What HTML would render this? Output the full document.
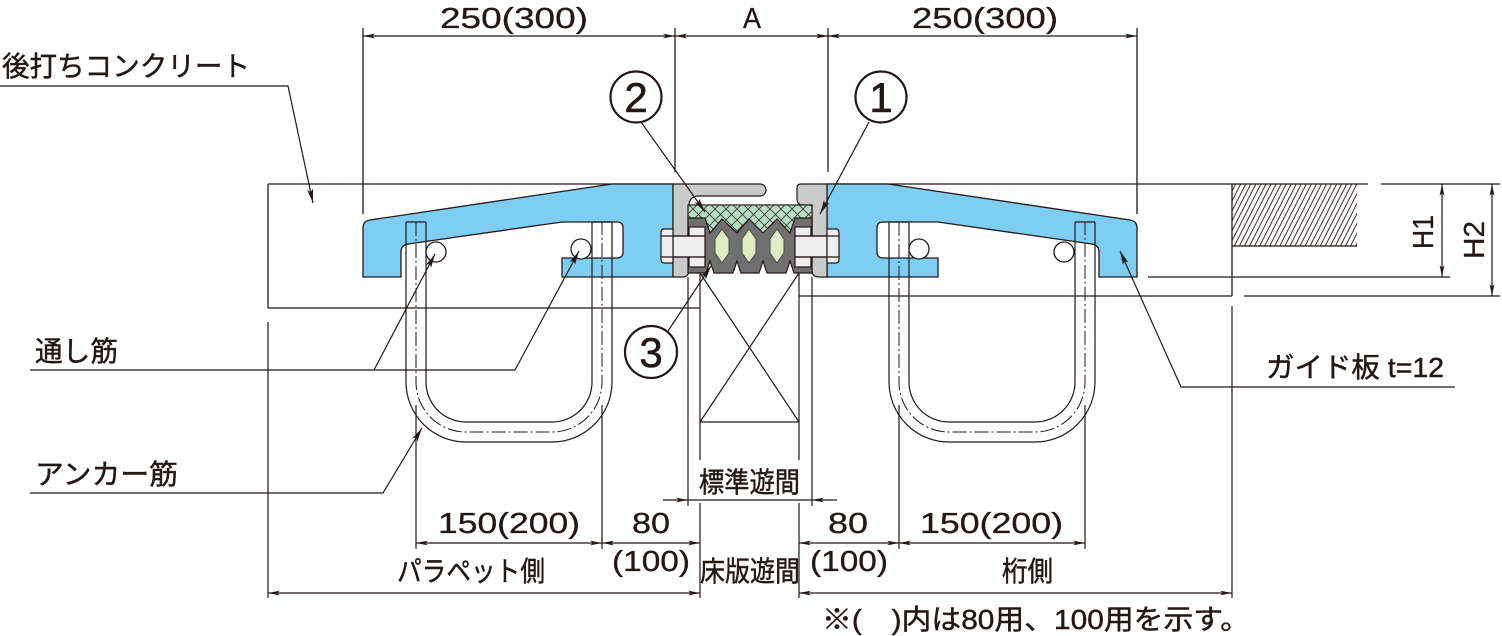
<!DOCTYPE html>
<html><head><meta charset="utf-8"><style>
html,body{margin:0;padding:0;background:#fff;}
body{width:1502px;height:636px;overflow:hidden;}
svg{display:block;}
text{fill:#231815;}
.n{font-family:"Liberation Sans",sans-serif;font-size:29px;stroke:#231815;stroke-width:0.3;}
.j{font-family:"Liberation Sans","Noto Sans CJK JP",sans-serif;font-size:28px;stroke:#231815;stroke-width:0.45;}
</style></head><body>
<svg width="1502" height="636" viewBox="0 0 1502 636" xmlns="http://www.w3.org/2000/svg">
<defs>
<marker id="da" viewBox="0 0 12 6" refX="12" refY="3" markerWidth="12" markerHeight="6" markerUnits="userSpaceOnUse" orient="auto-start-reverse"><path d="M0,0.6 L12,3 L0,5.4 L3,3 Z" fill="#231815"/></marker>
<marker id="la" viewBox="0 0 14 7" refX="14" refY="3.5" markerWidth="14" markerHeight="7" markerUnits="userSpaceOnUse" orient="auto"><path d="M0,0.5 L14,3.5 L0,6.5 L3,3.5 Z" fill="#231815"/></marker>
<pattern id="hat" width="4.5" height="10" patternUnits="userSpaceOnUse" patternTransform="rotate(27)"><line x1="1" y1="0" x2="1" y2="10" stroke="#231815" stroke-width="0.9"/></pattern>
<pattern id="xh" width="11" height="11" patternUnits="userSpaceOnUse"><path d="M0,0 L11,11 M11,0 L0,11" stroke="#3c3c3c" stroke-width="0.9"/></pattern>
</defs>

<g stroke="#231815" stroke-width="1.3" fill="none">
<line x1="363" y1="28" x2="363" y2="214"/>
<line x1="675" y1="28" x2="675" y2="172"/>
<line x1="828" y1="28" x2="828" y2="172"/>
<line x1="1137" y1="28" x2="1137" y2="214"/>
<line x1="363" y1="36" x2="675" y2="36" marker-start="url(#da)" marker-end="url(#da)"/>
<line x1="675" y1="36" x2="828" y2="36" marker-start="url(#da)" marker-end="url(#da)"/>
<line x1="828" y1="36" x2="1137" y2="36" marker-start="url(#da)" marker-end="url(#da)"/>

<line x1="268" y1="184" x2="673" y2="184"/>
<line x1="268" y1="184" x2="268" y2="308"/>
<line x1="268" y1="308" x2="700" y2="308"/>
<line x1="827" y1="184" x2="1368" y2="184"/>
<line x1="1381" y1="184" x2="1500" y2="184"/>
<line x1="1232" y1="184" x2="1232" y2="296"/>
<line x1="799" y1="296" x2="1232" y2="296"/>
<line x1="1244" y1="296" x2="1500" y2="296"/>
<line x1="1148" y1="277" x2="1450" y2="277"/>
</g>
<rect x="1232" y="184" width="125" height="62" fill="url(#hat)"/>
<line x1="1232" y1="246" x2="1357" y2="246" stroke="#231815" stroke-width="1.3"/>

<g stroke="#231815" stroke-width="1.2">
<line x1="1442" y1="184" x2="1442" y2="277" marker-start="url(#da)" marker-end="url(#da)"/>
<line x1="1492" y1="184" x2="1492" y2="296" marker-start="url(#da)" marker-end="url(#da)"/>
</g>
<text class="n" transform="translate(1433,249) rotate(-90)" textLength="34" lengthAdjust="spacingAndGlyphs">H1</text>
<text class="n" transform="translate(1484,259) rotate(-90)" textLength="38" lengthAdjust="spacingAndGlyphs">H2</text>

<g fill="#7ecef4" stroke="#231815" stroke-width="1.3">
<path d="M363,228 Q363,221 370,220 L612,184 H673 V277 H562 V258 H617 Q623,258 623,252 V228 Q623,222 617,222 H562 L408,244 Q401,245 401,252 V277 H363 Z"/>
<path d="M1137,228 Q1137,221 1130,220 L888,184 H827 V277 H938 V258 H883 Q877,258 877,252 V228 Q877,222 883,222 H938 L1092,244 Q1099,245 1099,252 V277 H1137 Z"/>
</g>

<g stroke="#231815" stroke-width="1.2" fill="none">
<path d="M406,222 V382 A60,60 0 0 0 466,442 H552 A60,60 0 0 0 612,382 V222"/>
<path d="M426,222 V382 A40,40 0 0 0 466,422 H552 A40,40 0 0 0 592,382 V222"/>
<path d="M416,222 V382 A50,50 0 0 0 466,432 H552 A50,50 0 0 0 602,382 V222" stroke-dasharray="14 3 2 3" stroke-width="1"/>
<line x1="406" y1="222" x2="426" y2="222"/>
<line x1="592" y1="222" x2="612" y2="222"/>
<path d="M889,222 V382 A60,60 0 0 0 949,442 H1035 A60,60 0 0 0 1095,382 V222"/>
<path d="M909,222 V382 A40,40 0 0 0 949,422 H1035 A40,40 0 0 0 1075,382 V222"/>
<path d="M899,222 V382 A50,50 0 0 0 949,432 H1035 A50,50 0 0 0 1085,382 V222" stroke-dasharray="14 3 2 3" stroke-width="1"/>
<line x1="889" y1="222" x2="909" y2="222"/>
<line x1="1075" y1="222" x2="1095" y2="222"/>
<line x1="416" y1="405" x2="416" y2="549"/>
<line x1="602" y1="405" x2="602" y2="549"/>
<line x1="899" y1="405" x2="899" y2="549"/>
<line x1="1085" y1="405" x2="1085" y2="549"/>
</g>
<g fill="#fff" stroke="#231815" stroke-width="1.3">
<circle cx="436" cy="252" r="10"/>
<circle cx="581" cy="249" r="10"/>
<circle cx="919" cy="249" r="10"/>
<circle cx="1064" cy="252" r="10"/>
</g>

<g stroke="#231815" stroke-width="1.2">
<path d="M673,184 H760 A6,6 0 0 1 760,196 H699 Q689,196 689,206 V270 Q689,277 682,277 H673 Z" fill="#c9caca"/>
<path d="M827,184 H801 Q797,184 797,188 V199 Q797,205 803,205 H812 V270 Q812,277 819,277 H827 Z" fill="#c9caca"/>
<rect x="688" y="205" width="124" height="30" fill="#b7dec3"/>
<rect x="688" y="205" width="124" height="30" fill="url(#xh)" stroke="none"/>
<path d="M688,218 H705 L710,233 L722,219 L737,233 L749,219 L763,233 L777,219 L790,233 L795,218 H812 V273 H794 L790,261 L786,273 H767 L763,261 L759,273 H741 L737,261 L733,273 H714 L710,261 L706,273 H688 Z" fill="#717071"/>
<g fill="#e0ebc4" stroke="#4a4a4a" stroke-width="1">
<path d="M722,229 L729,239 L729,253 L722,263 L715,253 L715,239 Z"/>
<path d="M749,229 L756,239 L756,253 L749,263 L742,253 L742,239 Z"/>
<path d="M777,229 L784,239 L784,253 L777,263 L770,253 L770,239 Z"/>
</g>
<g fill="#eeeeef">
<rect x="689" y="227" width="16" height="40"/>
<rect x="795" y="227" width="16" height="40"/>
<rect x="673" y="236" width="32" height="21"/>
<rect x="795" y="236" width="32" height="21"/>
<path d="M673,229 H664 Q661,229 661,233 V259 Q661,263 664,263 H673 Z"/>
<path d="M827,229 H836 Q839,229 839,233 V259 Q839,263 836,263 H827 Z"/>
</g>
<line x1="661" y1="236" x2="705" y2="236"/>
<line x1="661" y1="257" x2="705" y2="257"/>
<line x1="795" y1="236" x2="839" y2="236"/>
<line x1="795" y1="257" x2="839" y2="257"/>
</g>

<g stroke="#231815" stroke-width="1.2" fill="none">
<line x1="688" y1="277" x2="688" y2="506"/>
<line x1="812" y1="277" x2="812" y2="506"/>
<line x1="700" y1="273" x2="700" y2="460"/>
<line x1="799" y1="273" x2="799" y2="460"/>
<line x1="700" y1="503" x2="700" y2="598"/>
<line x1="799" y1="503" x2="799" y2="598"/>
<line x1="700" y1="422" x2="799" y2="422"/>
<line x1="700" y1="273" x2="799" y2="422"/>
<line x1="799" y1="273" x2="700" y2="422"/>
<line x1="268" y1="322" x2="268" y2="598"/>
<line x1="1232" y1="306" x2="1232" y2="598"/>
<line x1="663" y1="500" x2="837" y2="500"/>
</g>
<path d="M688,500 L676,497.6 L679,500 L676,502.4 Z" fill="#231815"/>
<path d="M812,500 L824,497.6 L821,500 L824,502.4 Z" fill="#231815"/>

<g stroke="#231815" stroke-width="1.2">
<line x1="416" y1="543" x2="602" y2="543" marker-start="url(#da)" marker-end="url(#da)"/>
<line x1="602" y1="543" x2="700" y2="543" marker-start="url(#da)" marker-end="url(#da)"/>
<line x1="799" y1="543" x2="899" y2="543" marker-start="url(#da)" marker-end="url(#da)"/>
<line x1="899" y1="543" x2="1085" y2="543" marker-start="url(#da)" marker-end="url(#da)"/>
<line x1="268" y1="593" x2="700" y2="593" marker-start="url(#da)" marker-end="url(#da)"/>
<line x1="799" y1="593" x2="1232" y2="593" marker-start="url(#da)" marker-end="url(#da)"/>
</g>

<g stroke="#231815" stroke-width="1.2" fill="none">
<polyline points="0,86 288,86 313,203" marker-end="url(#la)"/>
<line x1="30" y1="370" x2="515" y2="370"/>
<line x1="374" y1="370" x2="435" y2="254" marker-end="url(#la)"/>
<line x1="515" y1="370" x2="579" y2="251" marker-end="url(#la)"/>
<polyline points="30,493 383,493 422,428" marker-end="url(#la)"/>
<polyline points="1455,387 1181,387 1120,251" marker-end="url(#la)"/>
<line x1="641" y1="122" x2="705" y2="212" marker-end="url(#la)"/>
<line x1="869" y1="122" x2="820" y2="214" marker-end="url(#la)"/>
<line x1="668" y1="331" x2="711" y2="266" marker-end="url(#la)"/>
</g>

<g fill="#fff" stroke="#231815" stroke-width="2.2">
<circle cx="636" cy="97" r="25.5"/>
<circle cx="881" cy="97" r="25.5"/>
<circle cx="651" cy="352" r="26"/>
</g>
<g font-family="Liberation Sans, sans-serif" font-size="42" text-anchor="middle">
<text x="636" y="112" stroke="#231815" stroke-width="0.6">2</text>
<text x="881" y="112" stroke="#231815" stroke-width="0.6">1</text>
<text x="651" y="367" stroke="#231815" stroke-width="0.6">3</text>
</g>

<text class="n" x="440" y="28" textLength="148" lengthAdjust="spacingAndGlyphs">250(300)</text>
<text class="n" x="743" y="28" textLength="18" lengthAdjust="spacingAndGlyphs">A</text>
<text class="n" x="912" y="28" textLength="146" lengthAdjust="spacingAndGlyphs">250(300)</text>
<text class="j" x="2" y="76" textLength="248" lengthAdjust="spacingAndGlyphs">後打ちコンクリート</text>
<text class="j" x="35" y="361" font-size="29" textLength="83" lengthAdjust="spacingAndGlyphs">通し筋</text>
<text class="j" x="35" y="484" font-size="29" textLength="143" lengthAdjust="spacingAndGlyphs">アンカー筋</text>
<text class="j" x="1266" y="377" font-size="27" textLength="178" lengthAdjust="spacingAndGlyphs">ガイド板 t=12</text>
<text class="j" x="699" y="492" font-size="27" textLength="101" lengthAdjust="spacingAndGlyphs">標準遊間</text>
<text class="n" x="438" y="533" textLength="142" lengthAdjust="spacingAndGlyphs">150(200)</text>
<text class="n" x="632" y="533" textLength="38" lengthAdjust="spacingAndGlyphs">80</text>
<text class="n" x="612" y="571" textLength="78" lengthAdjust="spacingAndGlyphs">(100)</text>
<text class="j" x="397" y="581" font-size="27" textLength="148" lengthAdjust="spacingAndGlyphs">パラペット側</text>
<text class="j" x="700" y="581" font-size="27" textLength="100" lengthAdjust="spacingAndGlyphs">床版遊間</text>
<text class="n" x="828" y="533" textLength="40" lengthAdjust="spacingAndGlyphs">80</text>
<text class="n" x="810" y="571" textLength="78" lengthAdjust="spacingAndGlyphs">(100)</text>
<text class="n" x="920" y="533" textLength="143" lengthAdjust="spacingAndGlyphs">150(200)</text>
<text class="j" x="1002" y="581" font-size="27" textLength="51" lengthAdjust="spacingAndGlyphs">桁側</text>
<text class="j" x="822" y="629" font-size="27" textLength="428" lengthAdjust="spacingAndGlyphs">※(　)内は80用、100用を示す。</text>
</svg>
</body></html>
